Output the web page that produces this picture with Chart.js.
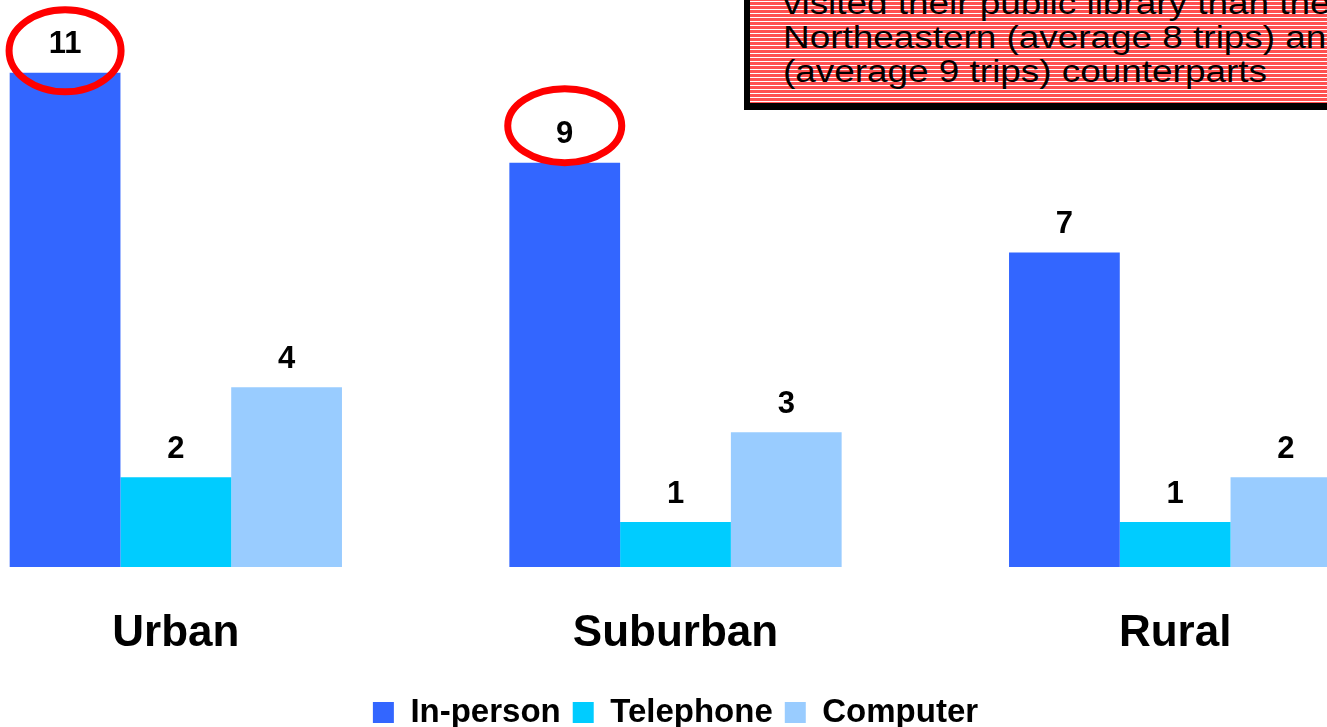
<!DOCTYPE html>
<html>
<head>
<meta charset="utf-8">
<title>Public library visits by locale</title>
<script src="https://cdn.jsdelivr.net/npm/chart.js@4.4.0/dist/chart.umd.min.js"></script>
<style>
  html, body { margin: 0; padding: 0; background: #fff; overflow: hidden; width: 1327px; height: 727px; position: relative; }
  #wrap { position: absolute; left: -74px; top: 0; width: 1499px; height: 739px; }
  .note {
    position: absolute; left: 744px; top: -60px; width: 640px; height: 157px;
    border: 6px solid #000; border-bottom-width: 7px; border-right: none;
    background: repeating-linear-gradient(to bottom, #ff5050 0px, #ff5050 3px, #ffffff 3px, #ffffff 4px);
  }
  .note p {
    margin: 0; position: absolute; left: 33px; top: 41px;
    font: 31px/34px "Liberation Sans", Arial, sans-serif; color: #000;
    transform: scaleX(1.19); transform-origin: 0 0; white-space: nowrap;
  }
</style>
</head>
<body>
<div id="wrap"><canvas id="visitsChart" width="1499" height="739"></canvas></div>
<div class="note"><p>visited their public library than their<br>Northeastern (average 8 trips) and<br>(average 9 trips) counterparts</p></div>
<script>
const categories = ["Urban", "Suburban", "Rural"];
const seriesNames = ["In-person", "Telephone", "Computer"];
const inPerson = [11, 9, 7];
const telephone = [2, 1, 1];
const computer = [4, 3, 2];
const seriesColors = ["#3366ff", "#00ccff", "#99ccff"];

Chart.defaults.font.family = '"Liberation Sans", Arial, sans-serif';
Chart.defaults.color = "#000";

// value labels above each bar
const valueLabels = {
    id: "valueLabels",
    afterDatasetsDraw(chart) {
        const ctx = chart.ctx;
        ctx.save();
        ctx.font = 'bold 31px "Liberation Sans", Arial, sans-serif';
        ctx.fillStyle = "#000";
        ctx.textAlign = "center";
        ctx.textBaseline = "middle";
        chart.data.datasets.forEach((ds, i) => {
            chart.getDatasetMeta(i).data.forEach((bar, j) => {
                ctx.fillText(ds.data[j], bar.x, bar.y - 28);
            });
        });
        ctx.restore();
    }
};

// red rings round the two biggest in-person values
const rings = {
    id: "rings",
    afterDraw(chart) {
        const marks = [
            { ds: 0, idx: 0, dy: -22, rx: 56, ry: 41 },
            { ds: 0, idx: 1, dy: -37, rx: 57, ry: 37 }
        ];
        const ctx = chart.ctx;
        ctx.save();
        ctx.strokeStyle = "#ff0000";
        ctx.lineWidth = 7;
        marks.forEach((m) => {
            const bar = chart.getDatasetMeta(m.ds).data[m.idx];
            ctx.beginPath();
            ctx.ellipse(bar.x, bar.y + m.dy, m.rx, m.ry, 0, 0, Math.PI * 2);
            ctx.stroke();
        });
        ctx.restore();
    }
};

new Chart(document.getElementById("visitsChart"), {
    type: "bar",
    data: {
        labels: categories,
        datasets: [
            { label: seriesNames[0], data: inPerson, backgroundColor: seriesColors[0] },
            { label: seriesNames[1], data: telephone, backgroundColor: seriesColors[1] },
            { label: seriesNames[2], data: computer, backgroundColor: seriesColors[2] }
        ]
    },
    options: {
        responsive: false,
        animation: false,
        layout: { padding: 0 },
        datasets: { bar: { barPercentage: 1, categoryPercentage: 0.665 } },
        scales: {
            x: {
                grid: { display: false, drawTicks: false },
                border: { display: false },
                ticks: { padding: 40, font: { size: 44, weight: "bold" } },
                // keep the baseline where the original has it
                afterFit(scale) {
                    const legendH = scale.chart.legend ? scale.chart.legend.height : 0;
                    scale.height = scale.chart.height - 567 - legendH;
                }
            },
            y: { display: false, min: 0, max: 12.62 }
        },
        plugins: {
            legend: {
                position: "bottom",
                labels: {
                    boxWidth: 21, boxHeight: 21, padding: 12,
                    font: { size: 33, weight: "bold" }
                }
            },
            tooltip: { enabled: false }
        }
    },
    plugins: [valueLabels, rings]
});
</script>
</body>
</html>
